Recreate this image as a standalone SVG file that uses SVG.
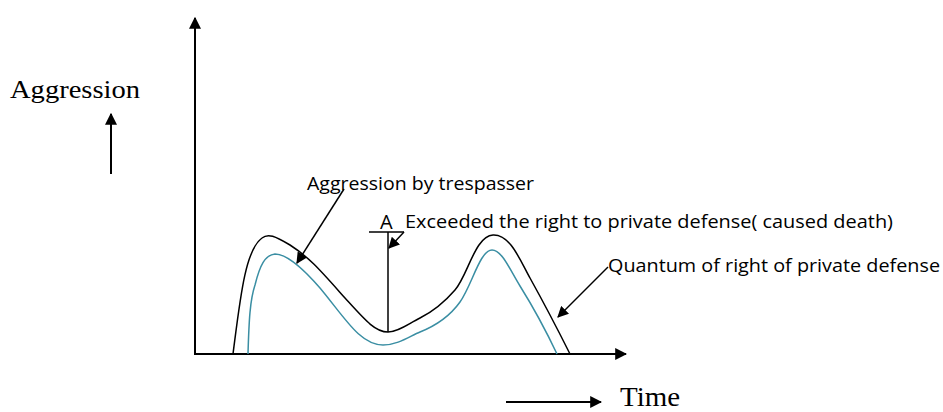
<svg xmlns="http://www.w3.org/2000/svg" width="943" height="412" viewBox="0 0 943 412">
<style>
.ln{stroke:#000;stroke-width:2;fill:none}
.thin{stroke:#000;stroke-width:1.5;fill:none}
.sans{font-family:"Open Sans","Liberation Sans",sans-serif;font-size:18px;fill:#000}
.serif{font-family:"Liberation Serif","Times New Roman",serif;fill:#000}
</style>
<defs>
<marker id="ah" viewBox="0 0 10 10" refX="9" refY="5" markerWidth="6" markerHeight="6" markerUnits="strokeWidth" orient="auto"><path d="M0,0 L10,5 L0,10 Z" fill="#000"/></marker>
<marker id="ahs" viewBox="0 0 10 10" refX="9" refY="5" markerWidth="7.5" markerHeight="7.5" markerUnits="strokeWidth" orient="auto"><path d="M0,0 L10,5 L0,10 Z" fill="#000"/></marker>
</defs>
<rect width="943" height="412" fill="#fff"/>
<g id="axes">
<line class="ln" x1="195" y1="355" x2="195" y2="18" marker-end="url(#ah)"/>
<line class="ln" x1="194" y1="354" x2="626" y2="354" marker-end="url(#ah)"/>
</g>
<g id="curves">
<path d="M233,354 C240,300 245,250 262,238 C268,233 275,236 290,245 C310,258 320,270 345,298 C365,320 375,332 388,332 C398,332 408,324 420,318 C432,312 442,305 455,290 C468,275 475,236 493,235 C510,234 520,260 530,278 C545,305 558,330 570,354" class="thin"/>
<path d="M248,354 C249,320 250,300 255,285 C260,265 265,255 275,254 C285,254 300,265 320,288 C345,318 360,345 383,345 C398,345 410,336 420,332 C435,326 450,316 460,302 C472,285 480,250 492,250 C502,250 510,270 520,286 C535,310 548,335 557,354" fill="none" stroke="#3a8ea3" stroke-width="1.5"/>
</g>
<g id="marker-A">
<line class="thin" x1="369" y1="232" x2="404" y2="232"/>
<line class="thin" x1="388" y1="232" x2="388" y2="332"/>
<text class="sans" x="380" y="229" style="font-size:20px">A</text>
</g>
<g id="connectors">
<line class="thin" x1="344" y1="189" x2="297" y2="263" marker-end="url(#ahs)"/>
<line class="thin" x1="404" y1="232" x2="389" y2="248" marker-end="url(#ahs)"/>
<line class="thin" x1="608" y1="267" x2="558" y2="317" marker-end="url(#ahs)"/>
<line class="ln" x1="111" y1="174" x2="111" y2="114" marker-end="url(#ah)"/>
<line class="ln" x1="506" y1="402" x2="601" y2="402" marker-end="url(#ah)"/>
</g>
<g id="labels">
<text class="sans" x="307" y="190" textLength="227" lengthAdjust="spacingAndGlyphs">Aggression by trespasser</text>
<text class="sans" x="405" y="228" textLength="488" lengthAdjust="spacingAndGlyphs">Exceeded the right to private defense( caused death)</text>
<text class="sans" x="608" y="272" textLength="332" lengthAdjust="spacingAndGlyphs">Quantum of right of private defense</text>
<text class="serif" x="10" y="98" font-size="25" textLength="130" lengthAdjust="spacingAndGlyphs">Aggression</text>
<text class="serif" x="620" y="406" font-size="27" textLength="60" lengthAdjust="spacingAndGlyphs">Time</text>
</g>
</svg>
